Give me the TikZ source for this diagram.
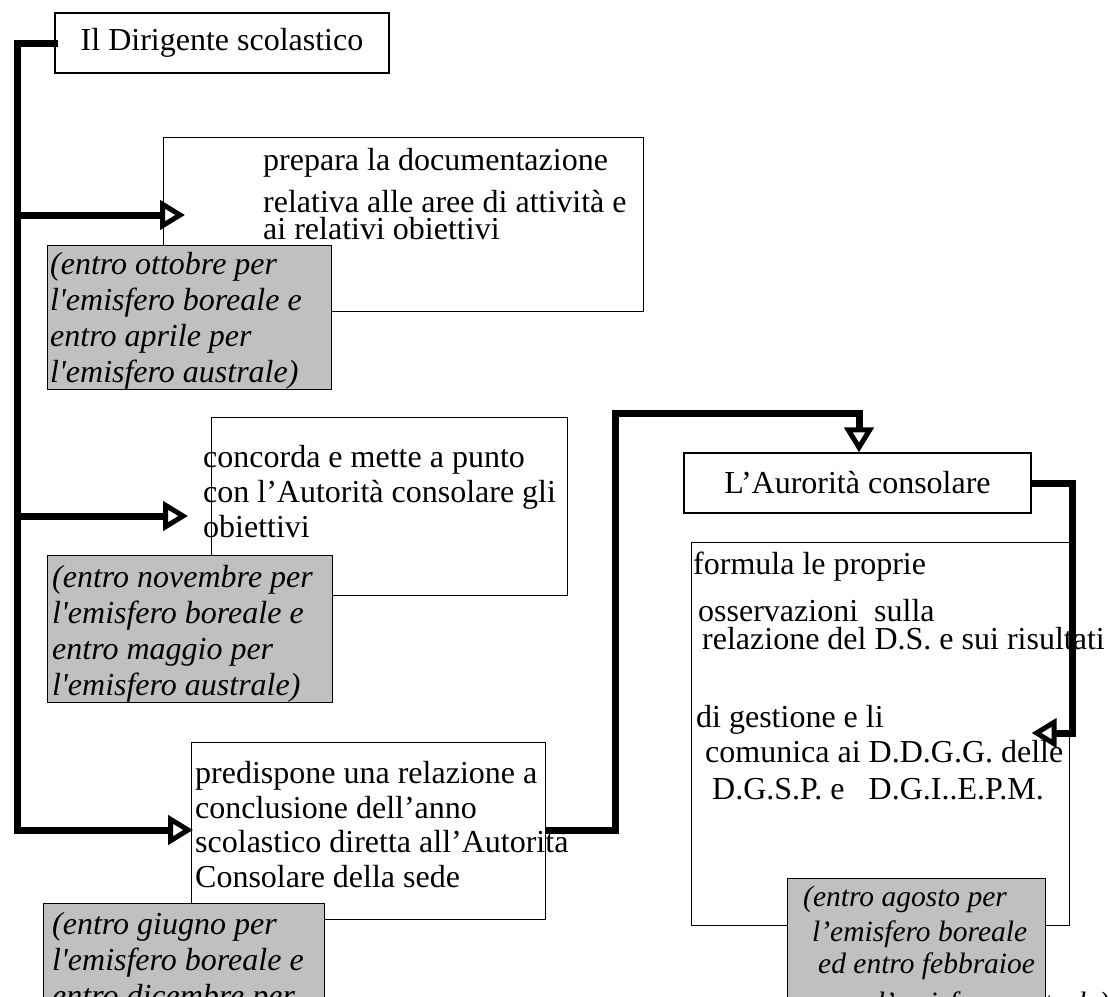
\documentclass[tikz,border=0pt]{standalone}
\usepackage{fontspec}
\setmainfont{Liberation Serif}
\usetikzlibrary{arrows.meta}
\definecolor{notegray}{RGB}{192,192,192}

\begin{document}
\begin{tikzpicture}[x=1pt,y=-1pt,
  box/.style={draw,fill=white,line width=1.3pt,inner sep=0pt,font=\fontsize{32}{35}\selectfont},
  note/.style={draw,fill=notegray,line width=1.3pt,inner sep=0pt,anchor=north west},
  txt/.style={inner sep=0pt,anchor=base west,align=left,font=\fontsize{32}{35}\selectfont},
  itx/.style={txt,font=\fontsize{32}{36}\selectfont\itshape},
  link/.style={line width=7pt,line join=miter},
  arr/.style={-{Triangle[open,length=25pt,width=29pt,line width=5pt]}}]
\useasboundingbox (0,0) rectangle (1108,996);
\clip (0,0) rectangle (1108,996);

\node[box,minimum width=334pt,minimum height=60pt] (dir) at (222,43) {Il Dirigente scolastico};
\node[box,anchor=north west,minimum width=480pt,minimum height=174pt] (prep) at (163,137) {};
\node[box,anchor=north west,minimum width=356pt,minimum height=178pt] (conc) at (211,417) {};
\node[box,anchor=north west,minimum width=354pt,minimum height=177pt] (pred) at (191,742) {};
\node[box,minimum width=347pt,minimum height=60pt] (aur) at (857.5,483) {L’Aurorità consolare};
\node[box,anchor=north west,minimum width=378pt,minimum height=383pt] (form) at (691,542) {};

% base = baseline of the last line
\node[txt] (preptxt) at (263,239) {prepara la documentazione\\[7pt]relativa alle aree di attività e\\[-8pt]ai relativi obiettivi};
\node[txt] (conctxt) at (203,537) {concorda e mette a punto\\con l’Autorità consolare gli\\obiettivi};
\node[txt,font=\fontsize{32}{34.5}\selectfont] (predtxt) at (195,887) {predispone una relazione a\\conclusione dell’anno\\scolastico diretta all’Autorità\\Consolare della sede};
\node[txt] (formtxt) at (693,799) {formula le proprie\\[12pt]
  \hspace*{5pt}osservazioni\ \ sulla\\[-7pt]
  \hspace*{9pt}relazione del D.S. e sui risultati\\[43pt]
  \hspace*{3pt}di gestione e li\\
  \hspace*{12pt}comunica ai D.D.G.G. delle\\[2pt]
  \hspace*{19pt}D.G.S.P. e\ \ \ D.G.I..E.P.M.};

\node[note,minimum width=284pt,minimum height=144pt] (n1) at (47,245) {};
\node[itx] (n1txt) at (50,382) {(entro ottobre per\\l\textquotesingle emisfero boreale e\\entro aprile per\\l\textquotesingle emisfero australe)};
\node[note,minimum width=285pt,minimum height=147pt] (n2) at (47,555) {};
\node[itx] (n2txt) at (52,695) {(entro novembre per\\l\textquotesingle emisfero boreale e\\entro maggio per\\l\textquotesingle emisfero australe)};
\node[note,minimum width=281pt,minimum height=140pt] (n3) at (43,903) {};
\node[itx] (n3txt) at (52,1006) {(entro giugno per\\l\textquotesingle emisfero boreale e\\entro dicembre per};
\node[note,minimum width=258pt,minimum height=140pt] (n4) at (787,878) {};
\node[itx,font=\fontsize{29.5}{35}\selectfont\itshape] (n4txt) at (803,1012) {(entro agosto per\\
  \hspace*{9pt}l’emisfero boreale\\[-3pt]
  \hspace*{15pt}ed entro febbraioe\\[4pt]
  \hspace*{27pt}per l’emisfero australe)};

\coordinate (j0) at (17,43);
\coordinate (j1) at (17,215);
\coordinate (j2) at (17,516);
\coordinate (j3) at (17,830);
\coordinate (b1) at (615,413);
\coordinate (b2) at (859,413);
\coordinate (b3) at (1072,483);
\coordinate (b4) at (1072,733);

\draw[link,line cap=rect] (dir.west) -- (j0) -- (j3);
\draw[link,arr,shorten >=-22pt] (j1) -- (j1 -| prep.west);
\draw[link,arr,shorten >=23pt] (j2) -- (j2 -| conc.west);
\draw[link,arr,shorten >=-2pt] (j3) -- (j3 -| pred.west);
\draw[link,arr] (j3 -| pred.east) -| (b1) -- (b2) -- (b2 |- aur.north);
\draw[link,arr] (aur.east) -- (b3) -- (b4) -- (b4 -| aur.east);
\end{tikzpicture}
\end{document}
